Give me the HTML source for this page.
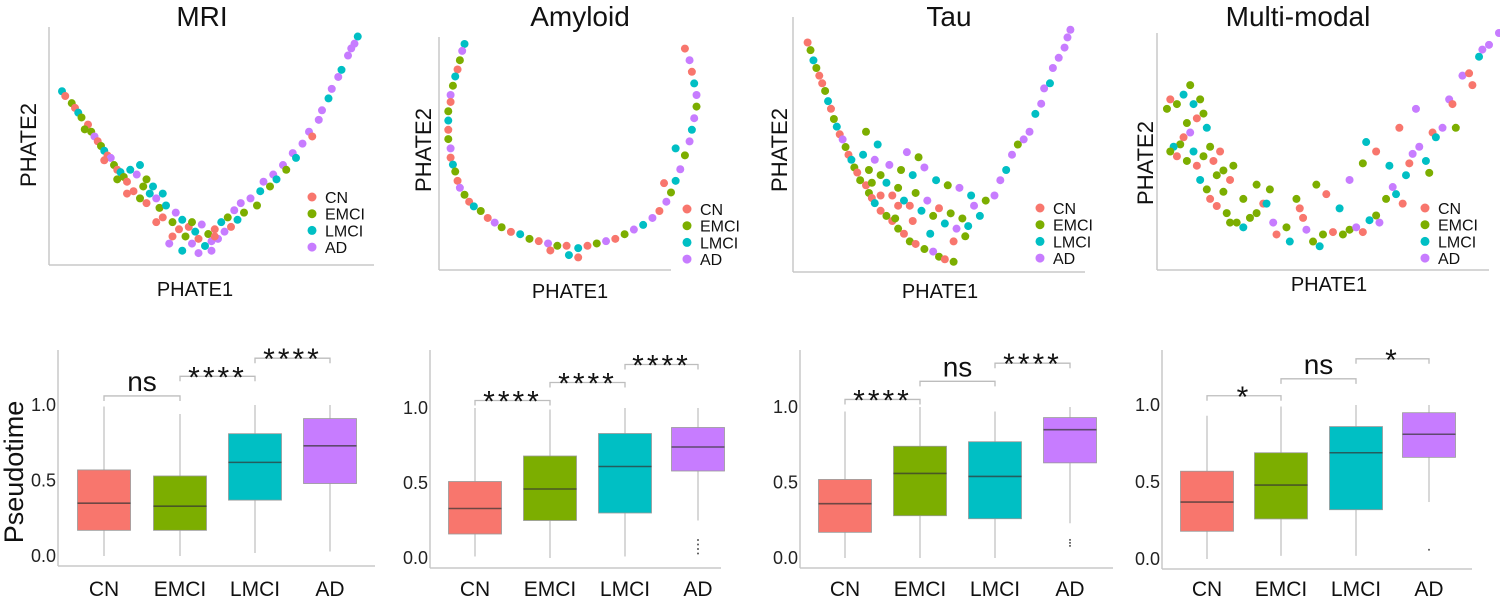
<!DOCTYPE html>
<html><head><meta charset="utf-8">
<style>
html,body{margin:0;padding:0;background:#fff;}
svg{display:block;font-family:"Liberation Sans",sans-serif;}
</style></head>
<body>
<svg id="fig" width="1500" height="598" viewBox="0 0 1500 598" xmlns="http://www.w3.org/2000/svg"></svg>
<script>
const groups = ["CN","EMCI","LMCI","AD"];
const colors = ["#F8766D","#7CAE00","#00BFC4","#C77CFF"];
const titles = ["MRI","Amyloid","Tau","Multi-modal"];

// scatter points [x, y, group] in normalized PHATE units (0-100)
const mriPts = [4,73,2,5,71,0,7,68,1,8,66,0,9,64,2,10,62,1,12,59,0,13,56,1,14,54,3,15,52,0,16,50,1,17,48,2,18,46,0,19,45,3,20,42,1,21,40,0,22,39,2,23,37,1,24,35,0,25,40,2,27,38,3,28,42,2,30,36,1,26,31,0,28,28,1,30,26,0,31,30,2,33,28,3,34,24,1,35,20,0,36,25,2,38,18,1,39,22,3,40,15,0,41,19,2,42,12,1,43,16,0,44,9,3,45,14,2,46,11,0,47,17,3,48,8,2,49,13,1,50,10,3,51,15,0,52,11,3,53,18,2,54,14,3,55,20,1,56,16,0,57,23,3,58,19,2,59,26,3,60,22,1,62,28,3,64,25,1,65,31,2,66,35,3,68,33,1,69,38,3,70,36,2,72,42,3,73,40,1,75,47,3,76,45,2,78,51,3,80,56,3,81,54,0,83,61,3,84,65,3,86,70,2,87,74,3,89,79,3,90,82,2,92,88,3,93,91,3,95,96,2,94,93,3,37,9,3,41,6,2,46,5,3,50,6,3,32,33,2,29,33,1,35,30,2,11,57,1,17,44,0,21,36,1,24,30,0,33,18,0,38,12,0,44,18,1,51,12,0];
const amyPts = [11,97,2,10,94,3,9,90,1,8,86,0,7,83,2,6,79,1,5,75,3,5,72,0,4,68,1,4,64,2,4,60,0,4,56,1,5,52,3,5,48,0,6,45,2,7,42,1,8,38,0,9,35,3,11,32,1,13,29,0,15,27,2,18,25,1,21,22,0,24,20,3,27,18,1,31,16,0,35,15,2,39,13,1,43,12,0,47,11,3,51,10,1,55,10,0,60,9,2,64,10,0,68,11,1,72,12,3,76,13,0,80,15,1,84,17,3,88,19,2,92,22,3,95,25,0,98,29,3,100,33,1,102,38,2,104,43,3,106,49,1,108,55,3,109,60,2,110,65,3,111,70,1,111,75,3,110,80,2,109,85,0,108,90,3,106,95,0,56,6,2,60,5,0,48,8,0,102,52,2,97,37,0];
const tauPts = [5,90,0,6,87,1,7,83,2,8,80,1,9,77,0,10,74,0,11,71,1,12,67,2,13,64,0,14,60,1,15,57,2,16,54,0,17,52,3,18,49,1,19,46,0,20,44,2,21,41,1,22,39,0,23,36,1,25,34,0,26,31,1,27,29,0,28,27,2,30,24,0,32,22,1,34,20,0,36,17,1,38,15,0,40,12,1,42,11,0,45,9,1,48,8,3,50,6,1,52,5,0,55,4,1,24,46,2,26,40,1,28,44,3,30,38,1,32,35,2,34,30,0,36,33,1,38,28,2,40,26,0,42,31,1,44,24,2,46,28,3,48,22,1,50,25,0,52,19,2,54,23,1,56,17,3,58,21,1,60,18,2,33,42,3,37,40,1,41,38,2,45,41,3,49,36,2,53,34,1,57,33,3,61,30,2,43,45,1,39,47,3,29,50,2,25,55,1,35,21,1,47,15,2,55,12,0,59,14,1,62,26,3,64,22,2,66,28,1,69,30,3,71,36,3,73,40,2,75,46,3,77,50,1,79,52,3,81,55,3,83,62,2,85,66,3,86,72,3,88,74,2,89,80,3,91,84,3,93,88,3,94,92,3,95,95,3,36,26,0,41,20,0,30,30,0,27,35,1];
const mmPts = [4,72,0,6,70,1,3,68,1,8,74,2,10,78,1,11,70,2,13,72,1,12,64,0,14,66,1,15,60,2,9,62,1,8,56,0,7,53,1,5,52,2,4,50,1,6,48,0,9,46,1,11,50,2,12,44,0,14,48,1,16,52,1,17,46,0,18,40,1,20,42,1,22,38,0,23,44,1,13,38,2,15,34,1,16,30,0,18,27,0,20,33,1,21,24,1,24,20,1,26,18,2,28,22,1,30,24,1,32,28,0,34,34,1,36,15,0,39,18,1,40,12,2,42,30,1,43,26,0,44,22,0,45,17,3,47,12,1,49,10,2,50,15,1,53,16,0,56,15,1,58,17,1,60,18,3,62,16,0,64,21,2,66,23,1,67,20,3,69,30,1,71,35,3,72,32,2,74,28,0,75,40,2,76,45,0,77,49,3,79,52,3,81,46,2,82,41,1,83,58,0,84,56,2,86,60,3,88,72,3,89,70,0,90,60,1,92,82,3,94,83,0,95,78,0,97,90,2,98,93,3,100,95,3,103,100,3,26,30,1,30,36,1,33,28,2,35,20,3,48,36,1,51,32,0,55,26,2,58,38,3,62,45,1,63,54,2,66,50,0,70,44,2,73,60,0,78,68,3,22,20,1,19,50,0,10,58,3];

// box plot stats per panel: [CN, EMCI, LMCI, AD]
const mriMin=[0.0,0.0,0.02,0.03], mriQ1=[0.17,0.17,0.37,0.48], mriMed=[0.35,0.33,0.62,0.73], mriQ3=[0.57,0.53,0.81,0.91], mriMax=[0.99,0.94,1.0,1.0];
const amyMin=[0.01,0.0,0.01,0.25], amyQ1=[0.16,0.25,0.30,0.58], amyMed=[0.33,0.46,0.61,0.74], amyQ3=[0.51,0.68,0.83,0.87], amyMax=[1.0,0.99,1.0,1.0];
const tauMin=[0.0,0.0,0.0,0.23], tauQ1=[0.17,0.28,0.26,0.63], tauMed=[0.36,0.56,0.54,0.85], tauQ3=[0.52,0.74,0.77,0.93], tauMax=[0.97,1.0,0.97,1.0];
const mmMin=[0.0,0.02,0.02,0.37], mmQ1=[0.18,0.26,0.32,0.66], mmMed=[0.37,0.48,0.69,0.81], mmQ3=[0.57,0.69,0.86,0.95], mmMax=[0.93,0.99,1.0,1.0];
const amyOutliers=[0.03,0.06,0.09,0.12], tauOutliers=[0.08,0.1,0.12], mmOutliers=[0.06];
const yTicks=[0.0,0.5,1.0], yTickLabels=["0.0","0.5","1.0"];
const mriSig=["ns","****","****"], amySig=["****","****","****"], tauSig=["****","ns","****"], mmSig=["*","ns","*"];
const mriSigY=[1.06,1.19,1.31], amySigY=[1.05,1.17,1.29], tauSigY=[1.05,1.17,1.29], mmSigY=[1.06,1.17,1.30];

const NS="http://www.w3.org/2000/svg";
const svg=document.getElementById("fig");
function mk(tag,attrs,parent,text){const e=document.createElementNS(NS,tag);for(const k in attrs)e.setAttribute(k,attrs[k]);if(text!==undefined)e.textContent=text;(parent||svg).appendChild(e);return e;}

const scatters=[
 {pts:mriPts,x0:49,y0:27,w:325,h:238,ax:[49,27,374,265],tx:202,ty:26,p1:[195,296],p2:[28,145],lg:[312,197]},
 {pts:amyPts,x0:439,y0:37,w:232,h:232,ax:[439,37,671,270],tx:580,ty:26,p1:[570,298],p2:[423,150],lg:[687,209]},
 {pts:tauPts,x0:793,y0:17,w:292,h:255,ax:[793,17,1085,272],tx:949,ty:26,p1:[940,298],p2:[779,150],lg:[1040,208]},
 {pts:mmPts,x0:1157,y0:33,w:332,h:237,ax:[1157,33,1489,270],tx:1298,ty:26,p1:[1329,291],p2:[1145,163],lg:[1425,208]}
];
scatters.forEach((s,i)=>{
 const g=mk("g",{});
 
 
 const sx=v=>s.x0+v/100*s.w, sy=v=>s.y0+s.h-v/100*s.h;
 const t=mk("text",{x:s.tx,y:s.ty,"text-anchor":"middle","font-size":28,fill:"#111"},g,titles[i]);
 
 
 const a=s.ax;
 const ya=mk("line",{x1:a[0],y1:a[1],x2:a[0],y2:a[3],stroke:"#c8c8c8","stroke-width":1.5},g);
 
 
 const xa=mk("line",{x1:a[0],y1:a[3],x2:a[2],y2:a[3],stroke:"#c8c8c8","stroke-width":1.5},g);
 
 
 for(let k=0;k<s.pts.length;k+=3){
  const c=mk("circle",{cx:sx(s.pts[k]),cy:sy(s.pts[k+1]),r:4,fill:colors[s.pts[k+2]]},g);
  
  
 }
 const l1=mk("text",{x:s.p1[0],y:s.p1[1],"text-anchor":"middle","font-size":20,fill:"#111"},g,"PHATE1");
 
 
 const l2=mk("text",{x:s.p2[0],y:s.p2[1],"text-anchor":"middle","font-size":22,fill:"#111",transform:`rotate(-90 ${s.p2[0]} ${s.p2[1]})`,dy:8},g,"PHATE2");
 
 
 groups.forEach((gn,j)=>{
  const ly=s.lg[1]+j*16.7;
  const d=mk("circle",{cx:s.lg[0],cy:ly,r:4.5,fill:colors[j]},g);
  
  
  const lt=mk("text",{x:s.lg[0]+13,y:ly+6,"font-size":16,fill:"#111"},g,gn);
  
  
 });
});

const boxes=[
 {min:mriMin,q1:mriQ1,med:mriMed,q3:mriQ3,max:mriMax,out:[],sig:mriSig,sigY:mriSigY,ax:58,v0:556,v1:405,cats:[104,180,255,330],xy:566,xe:375},
 {min:amyMin,q1:amyQ1,med:amyMed,q3:amyQ3,max:amyMax,out:amyOutliers,sig:amySig,sigY:amySigY,ax:430,v0:558,v1:408,cats:[475,550,625,698],xy:568,xe:721},
 {min:tauMin,q1:tauQ1,med:tauMed,q3:tauQ3,max:tauMax,out:tauOutliers,sig:tauSig,sigY:tauSigY,ax:800,v0:558,v1:407,cats:[845,920,995,1070],xy:568,xe:1113},
 {min:mmMin,q1:mmQ1,med:mmMed,q3:mmQ3,max:mmMax,out:mmOutliers,sig:mmSig,sigY:mmSigY,ax:1162,v0:559,v1:405,cats:[1207,1281,1356,1429],xy:569,xe:1472}
];
boxes.forEach((b,i)=>{
 const g=mk("g",{});
 
 
 const y=v=>b.v0+(b.v1-b.v0)*v;
 const ya=mk("line",{x1:b.ax,y1:350,x2:b.ax,y2:b.xy,stroke:"#c8c8c8","stroke-width":1.5},g);
 
 
 const xa=mk("line",{x1:b.ax,y1:b.xy,x2:b.xe,y2:b.xy,stroke:"#c8c8c8","stroke-width":1.5},g);
 
 
 yTicks.forEach((tv,k)=>{
  const tl=mk("text",{x:b.ax-2,y:y(tv)+6,"text-anchor":"end","font-size":18,fill:"#222"},g,yTickLabels[k]);
  
  
 });
 const bw=53;
 b.cats.forEach((cx,j)=>{
  const wh=mk("line",{x1:cx,y1:y(b.min[j]),x2:cx,y2:y(b.max[j]),stroke:"#c4c4c4","stroke-width":1.3},g);
  
  
  const r=mk("rect",{x:cx-bw/2,y:y(b.q3[j]),width:bw,height:y(b.q1[j])-y(b.q3[j]),fill:colors[j],stroke:"#999","stroke-width":0.8},g);
  
  
  const m=mk("line",{x1:cx-bw/2,y1:y(b.med[j]),x2:cx+bw/2,y2:y(b.med[j]),stroke:"#333","stroke-width":1.6,"stroke-opacity":0.7},g);
  
  
  const cl=mk("text",{x:cx,y:596,"text-anchor":"middle","font-size":21,fill:"#111"},g,groups[j]);
  
  
 });
 b.out.forEach(ov=>{
  const o=mk("circle",{cx:b.cats[3],cy:y(ov),r:1,fill:"#555"},g);
  
  
 });
 b.sig.forEach((lab,k)=>{
  const xa1=b.cats[k], xa2=b.cats[k+1], by=y(b.sigY[k]);
  const br=mk("path",{d:`M${xa1},${by+5} V${by} H${xa2} V${by+5}`,fill:"none",stroke:"#bdbdbd","stroke-width":1.3},g);
  
  
  const isStar=lab.indexOf("*")>=0;
  const st=mk("text",{x:(xa1+xa2)/2,y:isStar?by+11:by-5,"text-anchor":"middle","font-size":isStar?30:28,fill:"#111","letter-spacing":isStar?3:0},g,lab);
  
  
 });
 if(i===0){
  const pl=mk("text",{x:14,y:472,"text-anchor":"middle","font-size":27,fill:"#111",transform:"rotate(-90 14 472)",dy:9},g,"Pseudotime");
  
  
 }
});
</script>
</body></html>
